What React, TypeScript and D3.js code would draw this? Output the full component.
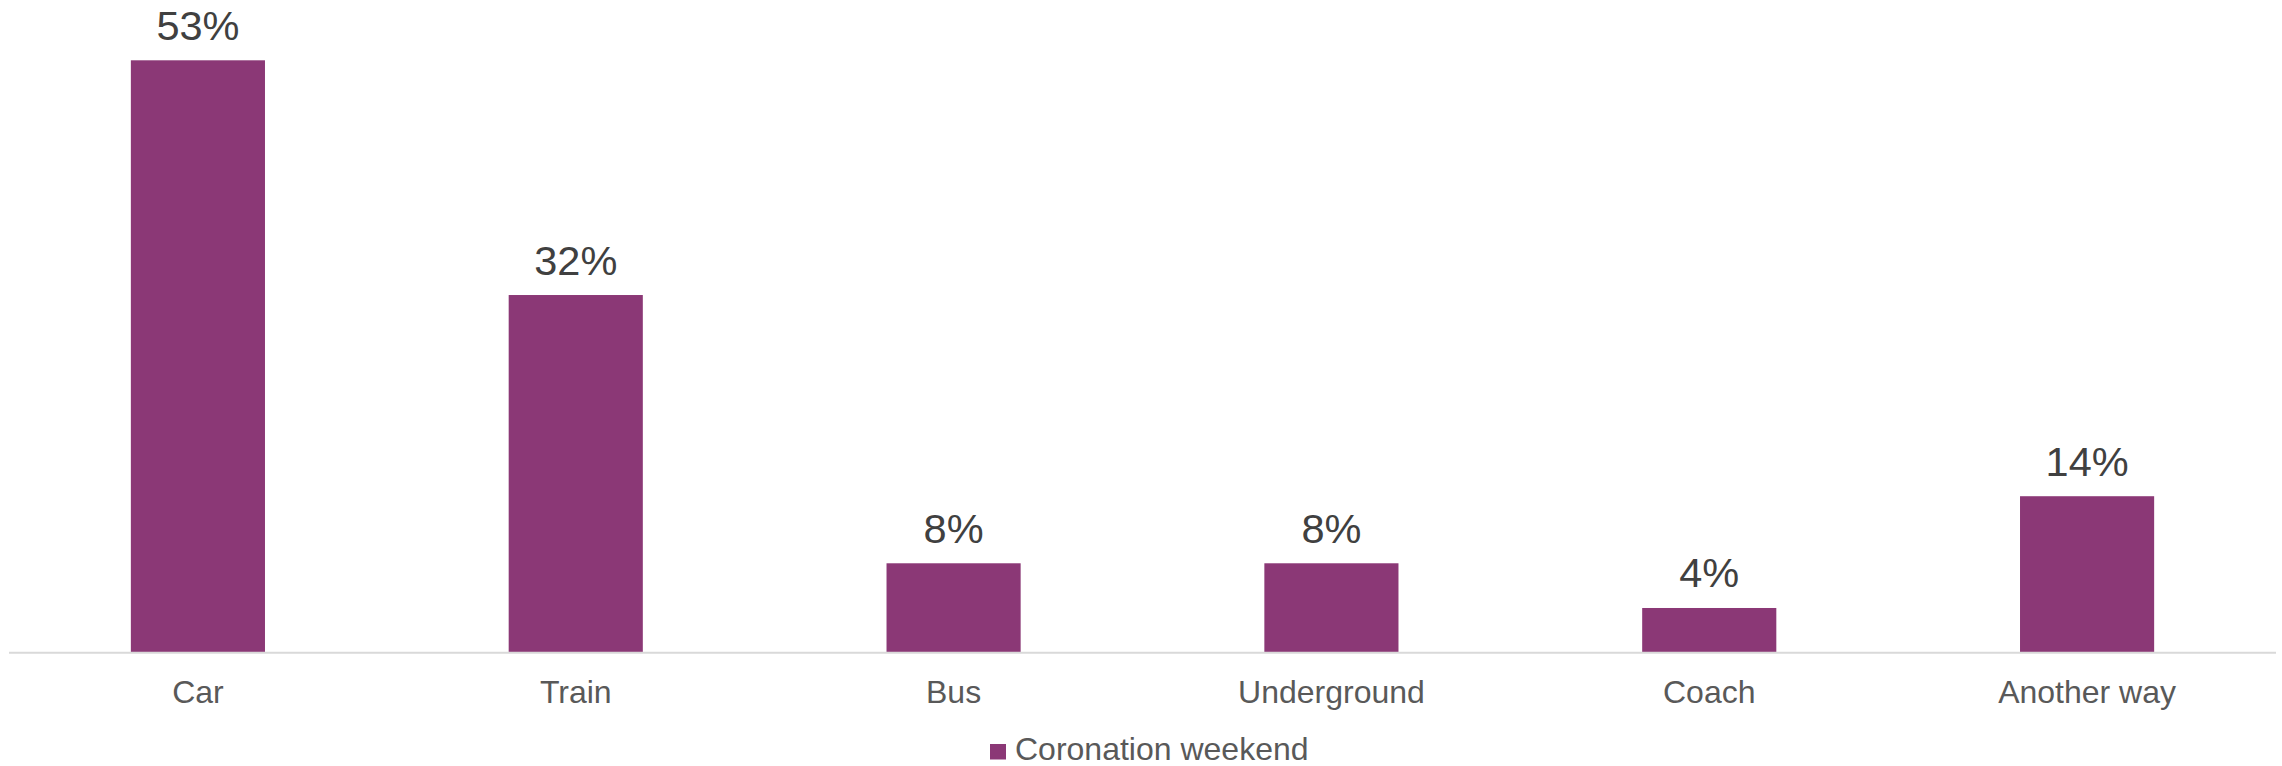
import React from "react";
import * as d3 from "d3";

const categories = ["Car", "Train", "Bus", "Underground", "Coach", "Another way"];
const values = [53, 32, 8, 8, 4, 14];
const seriesName = "Coronation weekend";

const W = 2282;
const H = 766;
const FONT = "'Liberation Sans', Arial, sans-serif";
const BAR = "#8B3876";

export default function App() {
  const x = d3
    .scaleBand<string>()
    .domain(categories)
    .range([9, 2276])
    .paddingInner(0.645)
    .paddingOuter(0.3225);
  const y = d3.scaleLinear().domain([0, 53]).range([652.7, 60.3]);

  return (
    <svg
      width={W}
      height={H}
      style={{ position: "absolute", left: 0, top: 0, background: "#fff" }}
      fontFamily={FONT}
    >
      <rect x={0} y={0} width={W} height={H} fill="#fff" />
      {categories.map((c, i) => (
        <g key={c}>
          <rect
            x={x(c)!}
            y={y(values[i])}
            width={x.bandwidth()}
            height={y(0) - y(values[i])}
            fill={BAR}
          />
          <text
            x={x(c)! + x.bandwidth() / 2}
            y={y(values[i]) - 20.5}
            textAnchor="middle"
            fontSize={41.5}
            fill="#404040"
          >
            {values[i] + "%"}
          </text>
          <text
            x={x(c)! + x.bandwidth() / 2}
            y={702.7}
            textAnchor="middle"
            fontSize={32}
            fill="#595959"
          >
            {c}
          </text>
        </g>
      ))}
      <line x1={9} x2={2276} y1={y(0)} y2={y(0)} stroke="#d9d9d9" strokeWidth={2} />
      <rect x={990} y={744} width={16} height={15.5} fill={BAR} />
      <text x={1015} y={759.5} fontSize={32} fill="#595959">
        {seriesName}
      </text>
    </svg>
  );
}
